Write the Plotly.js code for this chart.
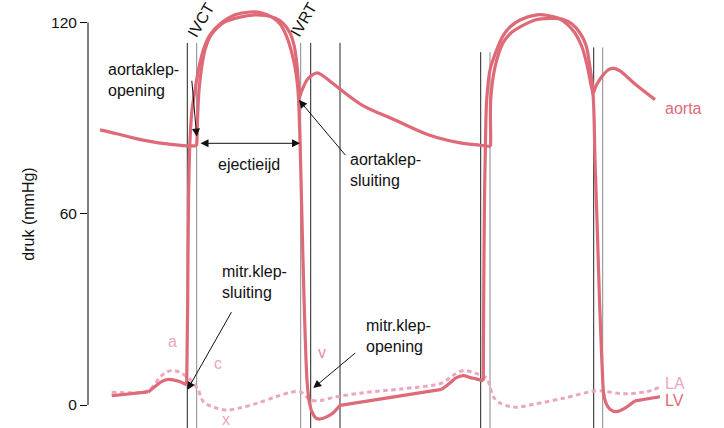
<!DOCTYPE html>
<html><head><meta charset="utf-8">
<script src="https://cdn.plot.ly/plotly-3.0.1.min.js"></script>
<style>html,body{margin:0;padding:0;background:#fff}</style>
</head><body><div id="chart" style="width:724px;height:428px"></div>
<script>
// time (arbitrary units) and pressure (mmHg)
const aortaT = [12,30,45,62,79,99,108.5,109,109.5,111,113.7,117,122,127,137,152,167,177,187,195,202,206,209,210.5,211,215,219,224,229,234,242,252,274,307,341,371,392,402.5,402.7,402.7,407,415,424,432,447,462,474,484,492,498,502,504.5,505.3,509,515,521,526,532,547,567];
const aortaP = [86.3,85.0,83.8,82.7,81.9,81.3,81.3,83.1,89.4,98.8,106.0,111.4,115.5,117.6,120.2,121.7,122.4,122.2,121.4,119.8,116.7,112.9,106.7,100.4,96.3,99.5,102.0,103.5,104.2,103.5,101.6,99.1,94.1,89.4,84.7,82.3,81.5,81.1,83.1,95.7,106.0,113.6,117.0,118.6,120.8,121.3,121.1,119.5,116.7,112.9,106.0,100.4,97.8,100.7,103.5,105.3,105.6,104.8,100.7,95.8];

const lvT = [23.7,60.3,67,74,80.3,90,98.7,99.7,100.5,102,104,107,111,116,122,132,147,162,174,184,192,198,203,207,209.5,210.5,212,213.5,215,217,219,221,224,228,232,238,245,252,353.7,362,368,375.3,382,388,395.3,395.7,396.5,397.5,398.7,402,408.7,415,422,432,449,460,470,479,487,494,499,503,505,507,509,511.5,513,514.5,515.5,518,522,528.7,537,547,572];
const lvP = [2.9,4.1,5.8,7.4,8.0,7.5,6.3,32.9,64.3,83.1,92.5,98.8,106.0,112.0,116.1,119.5,122.4,123.3,123.0,121.7,119.5,116.1,111.4,106.0,100.4,96.3,83.1,64.3,45.5,23.5,7.8,1.6,-2.2,-4.1,-4.4,-3.8,-2.5,-0.1,4.9,6.9,8.5,9.2,8.6,8.2,7.6,32.9,64.3,83.1,95.7,105.1,111.4,115.8,118.6,120.8,122.4,122.2,121.4,119.5,116.7,112.3,106.7,100.4,97.3,76.9,58.0,32.9,20.4,9.4,4.1,0.6,-1.3,-2.1,-1.0,1.3,2.6];

const laT = [23.7,60,67,72,79,85.3,92,98.7,105.3,110.3,115.3,122,128.7,138.7,152,168.7,187,202,212,217,222,232,247,274,312,354,364,375.5,387,398.7,402,405.3,412,422,429,447,475.3,508.7,518.7,535,558.7,572];
const laP = [4.0,4.4,6.6,8.8,10.4,10.8,10.2,8.9,7.0,4.7,1.0,-0.3,-1.0,-1.6,-0.9,0.5,2.5,3.9,4.2,3.1,1.6,1.4,2.5,3.8,5.0,6.9,9.1,10.8,10.0,8.4,5.7,2.6,0.6,-0.5,-0.7,0.3,2.1,4.5,4.2,3.5,4.2,5.6];

// sharp corners (times) where a curve is not smooth
const aortaCorners = [108.5, 211, 402.5, 505.3];
const lvCorners = [60.3, 98.7, 252, 353.7, 395.3, 547];
const laCorners = [];

// phase boundaries (time) and the pressure where each marker line starts
const phaseT = [99.3,108.7,212.7,222.7,252,392.7,402,505.7,514.7];
const phaseTop = [113.6,113.6,113.6,113.6,113.6,110.7,110.7,112.2,112.2];
const phaseDark = [true,false,false,true,true,true,false,true,false];

const yTicks = [0,60,120];

const RED = '#DF6A77';
const PINK = '#EBA6C4';
const FONT = 'Liberation Sans, Arial, Helvetica, sans-serif';

function pieces(T, P, corners, line) {
  const out = [];
  let start = 0;
  const cuts = corners.map(c => T.indexOf(c)).filter(i => i > 0).sort((a, b) => a - b);
  cuts.push(T.length - 1);
  cuts.forEach(end => {
    out.push({x: T.slice(start, end + 1), y: P.slice(start, end + 1), mode: 'lines',
      line: Object.assign({shape: 'spline', smoothing: 0.9}, line), hoverinfo: 'skip'});
    start = end;
  });
  return out;
}

const traces = [].concat(
  pieces(laT, laP, laCorners, {color: PINK, width: 3, dash: '4.5px,3.5px'}),
  pieces(lvT, lvP, lvCorners, {color: RED, width: 3.2}),
  pieces(aortaT, aortaP, aortaCorners, {color: RED, width: 3.2})
);

const shapes = phaseT.map((t, i) => ({
  type: 'line', xref: 'x', yref: 'y', x0: t, x1: t, y0: phaseTop[i], y1: -8,
  line: {color: phaseDark[i] ? '#222' : '#888', width: 1}, layer: 'below'
}));
shapes.push({type: 'line', xref: 'paper', yref: 'y', x0: 0, x1: 0, y0: 0, y1: 120, line: {color: '#000', width: 1}});

function txt(t, p, s, opts) {
  return Object.assign({x: t, y: p, xref: 'x', yref: 'y', text: s, showarrow: false,
    font: {family: FONT, size: 16, color: '#111'}, xanchor: 'left', yanchor: 'middle', align: 'left'}, opts || {});
}
function arrow(tx, ty, hx, hy, both) {
  return {x: hx, y: hy, ax: tx, ay: ty, xref: 'x', yref: 'y', axref: 'x', ayref: 'y', text: '',
    showarrow: true, arrowhead: 2, arrowsize: 1.6, arrowwidth: 1, arrowcolor: '#111',
    startarrowhead: 2, startarrowsize: 1.6, arrowside: both ? 'end+start' : 'end'};
}

const annotations = [
  txt(18, 102.0, 'aortaklep-<br>opening'),
  txt(161, 75.6, 'ejectieijd', {xanchor: 'center', align: 'center'}),
  txt(260, 73.7, 'aortaklep-<br>sluiting'),
  txt(132, 38.6, 'mitr.klep-<br>sluiting'),
  txt(276, 21.6, 'mitr.klep-<br>opening'),
  txt(113.5, 120.8, 'IVCT', {xanchor: 'center', textangle: -60}),
  txt(216, 120.8, 'IVRT', {xanchor: 'center', textangle: -60}),
  txt(84.7, 19.9, 'a', {xanchor: 'center', font: {family: FONT, size: 16, color: PINK}}),
  txt(130.3, 13.1, 'c', {xanchor: 'center', font: {family: FONT, size: 16, color: PINK}}),
  txt(138, -4.4, 'x', {xanchor: 'center', font: {family: FONT, size: 16, color: PINK}}),
  txt(233.7, 16.5, 'v', {xanchor: 'center', font: {family: FONT, size: 16, color: '#E58AB3'}}),
  txt(575, 93.0, 'aorta', {font: {family: FONT, size: 16, color: RED}}),
  txt(575, 6.6, 'LA', {font: {family: FONT, size: 16, color: PINK}}),
  txt(575, 1.3, 'LV', {font: {family: FONT, size: 16, color: RED}}),
  arrow(103.7, 102.2, 108.7, 84.2),
  arrow(111, 82.1, 212, 82.1, true),
  arrow(258.7, 77.9, 211, 95.7),
  arrow(144.3, 29.6, 99.3, 4.7),
  arrow(268.7, 16.7, 225.3, 5.3)
];

const layout = {
  width: 724, height: 428,
  margin: {l: 88, r: 0, t: 0, b: 0},
  paper_bgcolor: '#fff', plot_bgcolor: '#fff',
  showlegend: false,
  font: {family: FONT, size: 15, color: '#111'},
  xaxis: {range: [0, 636], visible: false, fixedrange: true},
  yaxis: {range: [-7.216, 127.06], tickvals: yTicks, ticktext: yTicks.map(String),
    ticks: 'outside', ticklen: 7, tickcolor: '#000', tickwidth: 1,
    showline: false, showgrid: false, zeroline: false,
    tickfont: {family: FONT, size: 15.5, color: '#111'},
    title: {text: 'druk (mmHg)', font: {family: FONT, size: 16, color: '#111'}, standoff: 12},
    fixedrange: true},
  shapes: shapes,
  annotations: annotations
};

Plotly.newPlot('chart', traces, layout, {staticPlot: true, displayModeBar: false});
</script></body></html>
